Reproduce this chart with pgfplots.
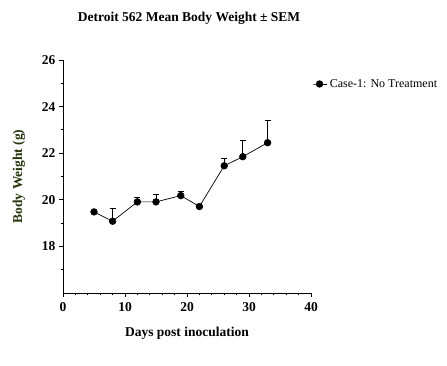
\documentclass[border=0pt]{standalone}
\usepackage{fontspec}
\setmainfont{Liberation Serif}
\usepackage{pgfplots}
\pgfplotsset{compat=1.18}
\definecolor{ylabcol}{RGB}{38,52,12}
\begin{document}
\begin{tikzpicture}[x=1pt,y=1pt]
\useasboundingbox (0,0) rectangle (447,366);
\node[font=\bfseries\fontsize{13.5}{15}\selectfont] at (189,348) {Detroit 562 Mean Body Weight ± SEM};
\begin{axis}[
  at={(63pt,73pt)}, anchor=south west,
  scale only axis, width=248pt, height=233pt,
  xmin=0, xmax=40, ymin=16, ymax=26,
  axis lines=left, axis line style={-, line width=0.8pt},
  tick align=outside,
  xtick={0,10,20,30,40}, minor xtick={2,4,6,8,12,14,16,18,22,24,26,28,32,34,36,38},
  ytick={18,20,22,24,26}, minor ytick={17,19,21,23,25},
  major tick length=4pt, minor tick length=2.5pt,
  every tick/.style={black, line width=0.8pt},
  /pgf/number format/assume math mode=true,
  tick label style={font=\bfseries\fontsize{13.5}{15}\selectfont},
  xticklabel style={yshift=-2pt},
  xlabel={\bfseries Days post inoculation},
  ylabel={\bfseries Body Weight (g)},
  xlabel style={font=\fontsize{13.5}{15}\selectfont, yshift=-9pt},
  ylabel style={font=\fontsize{13.5}{15}\selectfont, text=ylabcol, yshift=10pt},
  legend style={at={(1.0,0.897)}, anchor=west, draw=none, fill=none,
    font=\fontsize{12}{14}\selectfont, inner sep=1pt, nodes={inner xsep=3pt}},
  legend cell align=left,
  legend image code/.code={\draw[mark repeat=2,mark phase=2,#1] plot coordinates {(0pt,0pt) (7pt,0pt) (14pt,0pt)};},
  clip=false,
]
\addplot[black, line width=0.7pt, mark=*, mark size=3.3pt,
  error bars/.cd, y dir=plus, y explicit,
  error bar style={line width=0.9pt},
  error mark options={rotate=90, mark size=3pt, line width=0.9pt}]
  table[x=x, y=y, y error=e] {
x y e
5 19.48 0.03
8 19.08 0.57
12 19.91 0.21
15 19.91 0.30
19 20.18 0.19
22 19.71 0.03
26 21.46 0.30
29 21.85 0.68
33 22.45 0.94
};
\addlegendentry{Case-1: No Treatment}
\end{axis}
\end{tikzpicture}
\end{document}
